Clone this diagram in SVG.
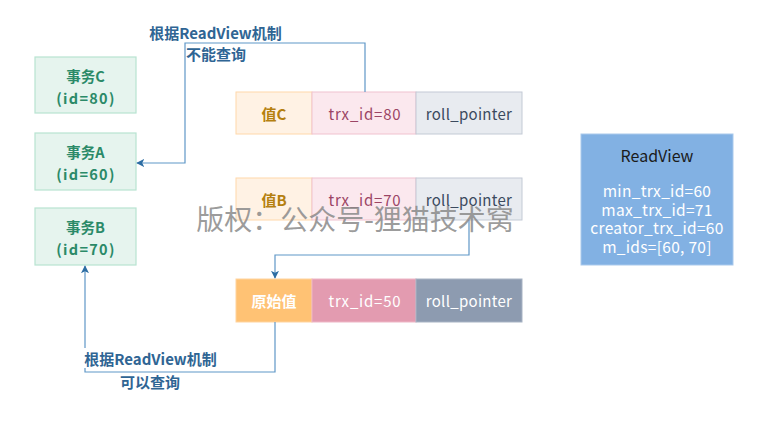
<svg xmlns="http://www.w3.org/2000/svg" width="761" height="424" viewBox="0 0 761 424">
<defs>
<marker id="arr" viewBox="0 0 10 10" refX="9" refY="5" markerWidth="8" markerHeight="8" markerUnits="userSpaceOnUse" orient="auto">
<path d="M0,0 L10,5 L0,10 L2.5,5 Z" fill="#2d6da3"/>
</marker>
<style>
text{font-family:"Noto Sans CJK SC","Noto Sans",sans-serif;text-anchor:middle;dominant-baseline:central}
.tx rect{fill:#e6f4ee;stroke:#b8e3d1;stroke-width:1.2}
.tx text{fill:#2b8a68;font-size:14.5px;font-weight:bold}
.tx .id{letter-spacing:1.3px}
.v1{fill:#fff2e4;stroke:#ffd8aa}
.v1t{fill:#b5800f;font-size:15px;font-weight:bold}
.t1{fill:#fbe8ee;stroke:#f0c2cf}
.t1t{fill:#9b4565;font-size:15px;letter-spacing:0.8px}
.r1{fill:#e8ebf0;stroke:#c3cad5}
.r1t{fill:#3b4a5e;font-size:15px;letter-spacing:0.3px}
.wt{fill:#ffffff}
.conn path{fill:none;stroke:#5f97c7;stroke-width:1.2}
.lbl{fill:#2f6594;font-size:15px;font-weight:bold}
.lblbg{fill:#ffffff}
.rv{fill:#ffffff;font-size:15.5px;letter-spacing:0.3px}
</style>
</defs>
<rect width="761" height="424" fill="#ffffff"/>

<g id="txC" class="tx">
<rect x="35" y="57" width="101" height="56"/>
<text x="85.5" y="75">事务C</text>
<text class="id" x="86" y="97">(id=80)</text>
</g>
<g id="txA" class="tx">
<rect x="35" y="133" width="101" height="57"/>
<text x="85.5" y="151">事务A</text>
<text class="id" x="86" y="173">(id=60)</text>
</g>
<g id="txB" class="tx">
<rect x="35" y="208" width="101" height="57"/>
<text x="85.5" y="226">事务B</text>
<text class="id" x="86" y="248">(id=70)</text>
</g>

<g id="rowC">
<rect class="v1" x="236" y="92" width="76" height="42"/>
<text class="v1t" x="274" y="113">值C</text>
<rect class="t1" x="312" y="92" width="104" height="42"/>
<text class="t1t" x="365" y="113">trx_id=80</text>
<rect class="r1" x="416" y="92" width="106" height="42"/>
<text class="r1t" x="469" y="113">roll_pointer</text>
</g>
<g id="rowB">
<rect class="v1" x="236" y="178" width="76" height="42"/>
<text class="v1t" x="274" y="199">值B</text>
<rect class="t1" x="312" y="178" width="104" height="42"/>
<text class="t1t" x="365" y="199">trx_id=70</text>
<rect class="r1" x="416" y="178" width="106" height="42"/>
<text class="r1t" x="469" y="199">roll_pointer</text>
</g>
<g id="rowOrig">
<rect x="236" y="279" width="76" height="43" fill="#ffc274" stroke="#ffd49e"/>
<text class="wt" x="274" y="300.5" font-size="15" font-weight="bold">原始值</text>
<rect x="312" y="279" width="104" height="43" fill="#e39bb0" stroke="#eeb6c6"/>
<text class="wt" x="365" y="300.5" font-size="15" letter-spacing="0.8">trx_id=50</text>
<rect x="416" y="279" width="106" height="43" fill="#8d9bb0" stroke="#a7b3c4"/>
<text class="wt" x="469" y="300.5" font-size="15" letter-spacing="0.3">roll_pointer</text>
</g>

<g id="readview">
<rect x="581" y="134" width="152" height="131" fill="#82b1e3" stroke="#a9c9ec"/>
<text x="657" y="155" fill="#1b1b1b" font-size="16">ReadView</text>
<text class="rv" x="657" y="190">min_trx_id=60</text>
<text class="rv" x="657" y="208.5">max_trx_id=71</text>
<text class="rv" x="657" y="227">creator_trx_id=60</text>
<text class="rv" x="657" y="245.5">m_ids=[60, 70]</text>
</g>

<g id="connectors" class="conn">
<path d="M365,92 V43 H185 V163 H137" marker-end="url(#arr)"/>
<path d="M469,220 V255 H275 V278" marker-end="url(#arr)"/>
<path d="M275,322 V372 H85 V266" marker-end="url(#arr)"/>
</g>

<g id="labelTop">
<rect class="lblbg" x="149" y="22" width="133" height="20"/>
<rect class="lblbg" x="187" y="44" width="60" height="19"/>
<text class="lbl" x="215.5" y="32">根据ReadView机制</text>
<text class="lbl" x="216" y="53">不能查询</text>
</g>
<g id="labelBottom">
<rect class="lblbg" x="84" y="348" width="133" height="20"/>
<rect class="lblbg" x="118" y="373" width="64" height="19"/>
<text class="lbl" x="150.5" y="358">根据ReadView机制</text>
<text class="lbl" x="150" y="381">可以查询</text>
</g>

<text id="watermark" x="355" y="218" fill="#8a8a8a" fill-opacity="0.85" font-size="28" font-family="'Noto Sans CJK SC',sans-serif">版权：公众号-狸猫技术窝</text>
</svg>
